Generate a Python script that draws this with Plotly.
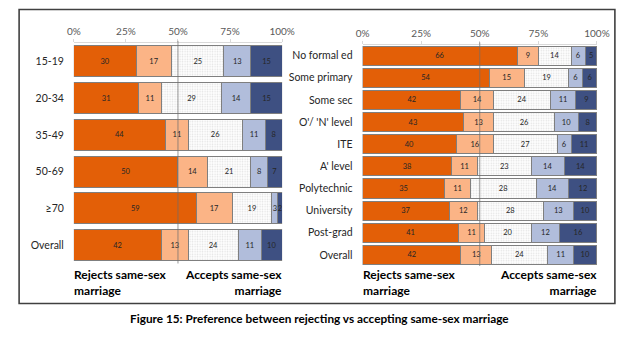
import plotly.graph_objects as go

# Five-point scale, from rejecting to accepting same-sex marriage
segment_names = ["Strongly reject", "Reject", "Neutral", "Accept", "Strongly accept"]
segment_colors = ["#E35F07", "#FBB486", "#FFFFFF", "#B1BDDB", "#3E5082"]

# Left panel: by age group
age_groups = ["15-19", "20-34", "35-49", "50-69", "≥70", "Overall"]
age_strongly_reject = [30, 31, 44, 50, 59, 42]
age_reject = [17, 11, 11, 14, 17, 13]
age_neutral = [25, 29, 26, 21, 19, 24]
age_accept = [13, 14, 11, 8, 3, 11]
age_strongly_accept = [15, 15, 8, 7, 2, 10]

# Right panel: by highest education
edu_levels = ["No formal ed", "Some primary", "Some sec", "O'/ 'N' level", "ITE",
              "A' level", "Polytechnic", "University", "Post-grad", "Overall"]
edu_strongly_reject = [66, 54, 42, 43, 40, 38, 35, 37, 41, 42]
edu_reject = [9, 15, 14, 13, 16, 11, 11, 12, 11, 13]
edu_neutral = [14, 19, 24, 26, 27, 23, 28, 28, 20, 24]
edu_accept = [6, 6, 11, 10, 6, 14, 14, 13, 12, 11]
edu_strongly_accept = [5, 6, 9, 8, 11, 14, 12, 10, 16, 10]

tick_vals = [0, 25, 50, 75, 100]
tick_text = ["0%", "25%", "50%", "75%", "100%"]

FONT = "Lato, 'Open Sans', sans-serif"

fig = go.Figure()


def add_panel(cats, series, xaxis, yaxis, width):
    for name, vals, color in zip(segment_names, series, segment_colors):
        marker = dict(color=color, line=dict(color="#7F7F7F", width=1))
        if name == "Neutral":
            marker["pattern"] = dict(shape=".", fgcolor="#C2C2C2", bgcolor="#FFFFFF",
                                     size=2.5, solidity=0.3)
        fig.add_trace(go.Bar(
            y=cats, x=vals, orientation="h", name=name,
            marker=marker, width=width,
            text=[str(v) for v in vals], textposition="inside",
            insidetextanchor="middle", textangle=0, constraintext="none",
            textfont=dict(size=7.5, color="#262626", family=FONT),
            xaxis=xaxis, yaxis=yaxis, showlegend=False, hoverinfo="skip",
        ))


add_panel(age_groups,
          [age_strongly_reject, age_reject, age_neutral, age_accept, age_strongly_accept],
          "x", "y", 0.845)
add_panel(edu_levels,
          [edu_strongly_reject, edu_reject, edu_neutral, edu_accept, edu_strongly_accept],
          "x2", "y2", 0.86)

xaxis_style = dict(
    range=[0, 100], side="top", tickvals=tick_vals, ticktext=tick_text,
    showgrid=False, zeroline=False, showline=True, linecolor="#D9D9D9",
    ticks="outside", ticklen=3, tickcolor="#D9D9D9",
    tickfont=dict(size=10, color="#595959", family=FONT), fixedrange=True,
)
yaxis_style = dict(
    type="category", autorange="reversed", showgrid=False, zeroline=False,
    showline=False, ticks="", ticklabelstandoff=9,
    tickfont=dict(size=10.5, color="#262626", family=FONT), fixedrange=True,
)

fig.update_layout(
    width=640, height=340,
    margin=dict(l=0, r=0, t=0, b=0),
    paper_bgcolor="white", plot_bgcolor="rgba(0,0,0,0)",
    barmode="stack",
    xaxis=dict(domain=[69 / 640, 284 / 640], anchor="y", **xaxis_style),
    yaxis=dict(domain=[1 - 263.5 / 340, 1 - 43.0 / 340], anchor="x", **yaxis_style),
    xaxis2=dict(domain=[367 / 640, 609 / 640], anchor="y2", **xaxis_style),
    yaxis2=dict(domain=[1 - 266.0 / 340, 1 - 44.5 / 340], anchor="x2", **yaxis_style),
    font=dict(family=FONT),
)

# 50% reference lines across each panel
for xr, yr in (("x", "y domain"), ("x2", "y2 domain")):
    fig.add_shape(type="line", xref=xr, yref=yr, x0=50, x1=50, y0=0, y1=1.01,
                  line=dict(color="rgba(110,110,110,0.7)", width=1), layer="above")

# Outer frame around both panels
fig.add_shape(type="rect", xref="paper", yref="paper",
              x0=12.5 / 640, x1=627.5 / 640, y0=1 - 303.5 / 340, y1=1 - 9.5 / 340,
              line=dict(color="#404040", width=1.6), fillcolor="rgba(0,0,0,0)")

# End labels beneath each panel
end_font = dict(size=12, color="#000000", family=FONT)
for xr in ("x", "x2"):
    fig.add_annotation(xref=xr, yref="paper", x=0, xshift=-2, y=1 - 282 / 340,
                       text="<b>Rejects same-sex<br>marriage</b>", showarrow=False,
                       xanchor="left", yanchor="middle", align="left", font=end_font)
    fig.add_annotation(xref=xr, yref="paper", x=100, xshift=2, y=1 - 282 / 340,
                       text="<b>Accepts same-sex<br>marriage</b>", showarrow=False,
                       xanchor="right", yanchor="middle", align="right", font=end_font)

# Figure caption
fig.add_annotation(xref="paper", yref="paper", x=323 / 640, y=1 - 318 / 340,
                   text="<b>Figure 15: Preference between rejecting vs accepting same-sex marriage</b>",
                   showarrow=False, xanchor="center", yanchor="middle",
                   font=dict(size=11.8, color="#000000", family=FONT))

fig.write_html("out.html")
